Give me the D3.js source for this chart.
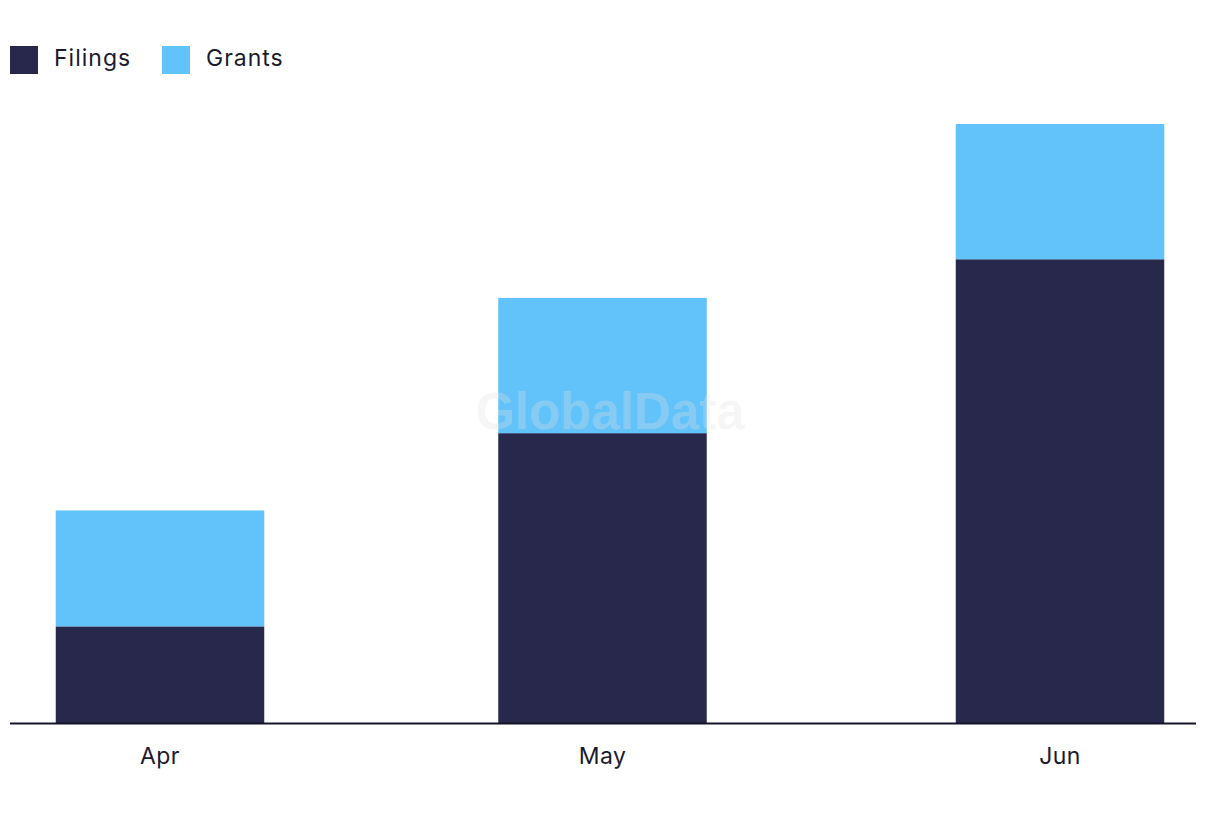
<!DOCTYPE html>
<html><head><meta charset="utf-8">
<script src="https://cdn.jsdelivr.net/npm/d3@7"></script>
<style>body{margin:0;background:#fff}svg{display:block}</style>
</head><body>
<svg id="c" width="1220" height="822"></svg>
<script>
const months = ["Apr", "May", "Jun"];
const filings = [5, 15, 24];
const grants = [6, 7, 7];
const seriesNames = ["Filings", "Grants"];
const colors = ["#28284c", "#62c2fa"];

const svg = d3.select("#c");
const font = "Inter, 'Noto Sans', sans-serif";
const baseY = 723, topY = 124;

const x = d3.scaleOrdinal().domain(months).range([160, 602.5, 1060]);
const barW = 208.5;
const y = d3.scaleLinear().domain([0, 31]).range([baseY, topY]);

const table = months.map((m, i) => ({month: m, Filings: filings[i], Grants: grants[i]}));
const stack = d3.stack().keys(seriesNames)(table);
const color = d3.scaleOrdinal().domain(seriesNames).range(colors);

svg.append("g").selectAll("g").data(stack).join("g")
  .attr("fill", d => color(d.key))
  .selectAll("rect").data(d => d).join("rect")
  .attr("x", d => x(d.data.month) - barW / 2)
  .attr("width", barW)
  .attr("y", d => y(d[1]))
  .attr("height", d => y(d[0]) - y(d[1]));

svg.append("line").attr("x1", 10).attr("x2", 1196).attr("y1", baseY + 0.5).attr("y2", baseY + 0.5)
  .attr("stroke", "#14142a").attr("stroke-width", 2);

svg.append("g").selectAll("text").data(months).join("text")
  .attr("x", d => x(d)).attr("y", 764).attr("text-anchor", "middle")
  .attr("font-family", font).attr("font-size", 23).attr("letter-spacing", 0.4).attr("fill", "#1a1a2e")
  .text(d => d);

const lg = svg.append("g").selectAll("g").data(seriesNames).join("g")
  .attr("transform", (d, i) => `translate(${[10, 162][i]},46)`);
lg.append("rect").attr("width", 28).attr("height", 28).attr("fill", d => color(d));
lg.append("text").attr("x", 44).attr("y", 20).attr("font-family", font).attr("font-size", 23)
  .attr("letter-spacing", 1).attr("fill", "#1a1a2e").text(d => d);

svg.append("text").attr("x", 610).attr("y", 429).attr("text-anchor", "middle")
  .attr("font-family", "'Liberation Sans', Arial, sans-serif").attr("font-weight", "bold")
  .attr("font-size", 51).attr("fill", "rgb(225,225,225)").attr("fill-opacity", 0.3)
  .text("GlobalData");
</script>
</body></html>
